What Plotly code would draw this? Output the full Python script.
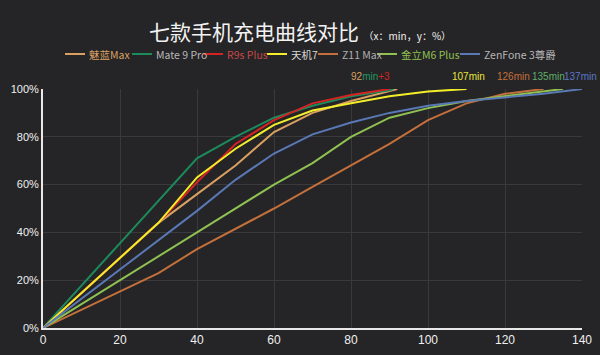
import plotly.graph_objects as go

names = ["魅蓝Max", "Mate 9 Pro", "R9s Plus", "天机7", "Z11 Max", "金立M6 Plus", "ZenFone 3尊爵"]
line_colors = ["#d9a062", "#1d8a5c", "#d42322", "#f2ee2a", "#c4703c", "#8fc152", "#5a78b6"]
text_colors = ["#d9a062", "#b8b8b8", "#c44a4a", "#d8d8d8", "#b0b0b0", "#8fc152", "#b8b8b8"]

x_meilan = [0, 30, 40, 50, 60, 70, 80, 90, 92]
y_meilan = [0, 44, 56, 68, 82, 90, 95, 99, 100]
x_mate = [0, 40, 50, 60, 70, 80, 90, 91]
y_mate = [0, 71, 80, 88, 93, 97, 99.5, 100]
x_r9s = [0, 30, 40, 50, 60, 70, 80, 90]
y_r9s = [0, 44, 61, 77, 87, 94, 97.5, 100]
x_tianji = [0, 30, 40, 50, 60, 70, 80, 90, 100, 110]
y_tianji = [0, 44, 63, 75, 85, 91, 94, 97, 99, 100]
x_z11 = [0, 30, 40, 60, 70, 80, 90, 100, 110, 120, 130]
y_z11 = [0, 23, 33, 50, 59, 68, 77, 87, 94, 98, 100]
x_jinli = [0, 40, 60, 70, 80, 90, 100, 110, 120, 135]
y_jinli = [0, 40, 60, 69, 80, 88, 92, 95, 97, 100]
x_zen = [0, 40, 50, 60, 70, 80, 90, 100, 110, 120, 130, 140]
y_zen = [0, 49, 62, 73, 81, 86, 90, 93, 95, 96.5, 98, 100]

xs = [x_meilan, x_mate, x_r9s, x_tianji, x_z11, x_jinli, x_zen]
ys = [y_meilan, y_mate, y_r9s, y_tianji, y_z11, y_jinli, y_zen]

end_labels = [
    "<span style='color:#d9a062'>92</span><span style='color:#1d9a64'>min</span><span style='color:#d42322'>+3</span>",
    "<span style='color:#e8e43a'>107min</span>",
    "<span style='color:#c4703c'>126min</span>",
    "<span style='color:#5fae6a'>135min</span>",
    "<span style='color:#5a78c6'>137min</span>",
]
end_label_x = [85, 110.5, 122.3, 131.4, 139.6]

x_ticks = [0, 20, 40, 60, 80, 100, 120, 140]
y_ticks = [0, 20, 40, 60, 80, 100]
y_tick_text = [f"{v}%" for v in y_ticks]

# layout geometry (pixels)
W, H = 600, 355
ML, MR, MT, MB = 43, 18, 89, 27
PW, PH = W - ML - MR, H - MT - MB
legend_px = [65, 132, 203, 267, 318, 377, 460]
legend_py = 54


def px_to_paper(px, py):
    return (px - ML) / PW, (H - MB - py) / PH


fig = go.Figure()
for n, c, x, y in zip(names, line_colors, xs, ys):
    fig.add_trace(go.Scatter(x=x, y=y, mode="lines", name=n,
                             line=dict(color=c, width=2), showlegend=False))

for txt, xv in zip(end_labels, end_label_x):
    fig.add_annotation(x=xv, y=100, xref="x", yref="y", text=txt, showarrow=False,
                       yanchor="middle", yshift=13,
                       font=dict(size=10, family="Liberation Sans"))

# legend row
for n, c, tc, lx in zip(names, line_colors, text_colors, legend_px):
    x0, y0 = px_to_paper(lx, legend_py)
    x1, _ = px_to_paper(lx + 20, legend_py)
    fig.add_shape(type="line", xref="paper", yref="paper", x0=x0, x1=x1, y0=y0, y1=y0,
                  line=dict(color=c, width=2))
    tx, ty = px_to_paper(lx + 22, legend_py)
    fig.add_annotation(x=tx, y=ty, xref="paper", yref="paper", text=n, showarrow=False,
                       xanchor="left", yanchor="middle",
                       font=dict(size=10.5, color=tc, family="Noto Sans CJK SC"))

fig.update_layout(
    width=W, height=H,
    paper_bgcolor="#252426", plot_bgcolor="#252426",
    margin=dict(l=ML, r=MR, t=MT, b=MB, autoexpand=False),
    title=dict(
        text="七款手机充电曲线对比 <span style='font-size:10px'>（x：min，y：%）</span>",
        x=0.5, xanchor="center", y=1 - 33 / H, yanchor="middle", yref="container",
        font=dict(size=21, color="#f2f2f2", family="Noto Sans CJK SC"),
    ),
    showlegend=False,
    font=dict(family="Noto Sans CJK SC", color="#f0f0f0"),
    xaxis=dict(range=[0, 140], tickvals=x_ticks, showgrid=True, gridcolor="#3a3a3c",
               showline=True, linecolor="#e8e8e8", linewidth=2, zeroline=False,
               tickfont=dict(size=12, color="#f0f0f0", family="Liberation Sans"), ticks=""),
    yaxis=dict(range=[0, 100], tickvals=y_ticks, ticktext=y_tick_text, showgrid=True,
               gridcolor="#3a3a3c",
               showline=True, linecolor="#e8e8e8", linewidth=2, zeroline=False,
               tickfont=dict(size=11, color="#f0f0f0", family="Liberation Sans"), ticks=""),
)
fig.write_html("out.html", config={"displayModeBar": False},
               post_script="document.body.style.margin='0';document.body.style.background='#252426';")
